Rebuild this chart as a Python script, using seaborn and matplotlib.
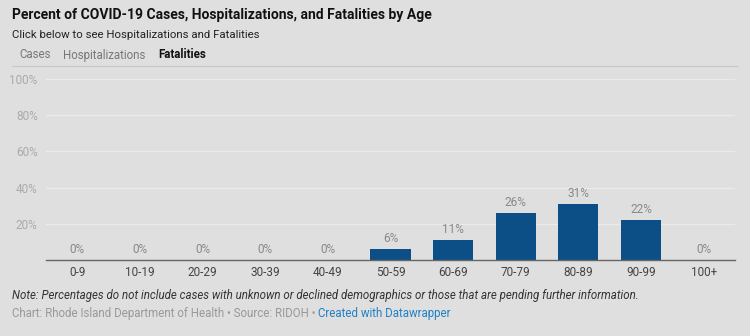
import matplotlib
matplotlib.use("Agg")
import matplotlib.pyplot as plt
import seaborn as sns
import pandas as pd

categories = ["0-9", "10-19", "20-29", "30-39", "40-49", "50-59", "60-69", "70-79", "80-89", "90-99", "100+"]
fatalities = [0, 0, 0, 0, 0, 6, 11, 26, 31, 22, 0]
ytick_values = [20, 40, 60, 80, 100]
ytick_labels = ["20%", "40%", "60%", "80%", "100%"]

BG = "#e0dfe0"
BAR = "#0b4f86"

sns.set_theme(style="white")
plt.rcParams["font.family"] = ["Roboto", "DejaVu Sans"]

df = pd.DataFrame({"age": categories, "pct": fatalities})

fig = plt.figure(figsize=(7.5, 3.36), dpi=100, facecolor=BG)
ax = fig.add_axes([46/750, 1-260/336, (735-46)/750, (260-79)/336])
ax.set_facecolor(BG)

sns.barplot(data=df, x="age", y="pct", color=BAR, width=0.64, saturation=1,
            linewidth=0, edgecolor=BAR, ax=ax, zorder=3)

ax.set_ylim(0, 100)
ax.set_xlim(-0.5, len(categories)-0.5)
ax.set_yticks(ytick_values)
ax.set_yticklabels(ytick_labels)
for y in ytick_values:
    ax.axhline(y, color="#ebebeb", lw=0.9, zorder=1)
for s in ["top", "right", "left"]:
    ax.spines[s].set_visible(False)
ax.spines["bottom"].set_color("#666666")
ax.spines["bottom"].set_linewidth(1.0)
ax.spines["bottom"].set_zorder(4)
ax.set_xlabel("")
ax.set_ylabel("")
ax.tick_params(axis="y", length=0, labelsize=8.5, labelcolor="#aaaaaa", pad=6)
ax.tick_params(axis="x", length=0, labelsize=8.5, labelcolor="#444444", pad=4)

for i, v in enumerate(fatalities):
    ax.annotate(f"{v}%", (i, v), xytext=(0, 3), textcoords="offset points",
                ha="center", va="bottom", fontsize=8.5, color="#888888")

fig.text(12/750, 1-15/336, "Percent of COVID-19 Cases, Hospitalizations, and Fatalities by Age",
         fontsize=10, fontweight="bold", color="#111111", va="center")
fig.text(12/750, 1-35/336, "Click below to see Hospitalizations and Fatalities",
         fontsize=8.2, color="#222222", va="center")
fig.text(19/750, 1-55/336, "Cases", fontsize=8.3, color="#777777", va="center")
fig.text(63/750, 1-55/336, "Hospitalizations", fontsize=8.3, color="#777777", va="center")
fig.text(158/750, 1-55/336, "Fatalities", fontsize=8.3, color="#111111", fontweight="bold", va="center")
fig.add_artist(plt.Line2D([12/750, 738/750], [1-66/336, 1-66/336], color="#c8c8c8", lw=0.8))

fig.text(12/750, 1-295/336,
         "Note: Percentages do not include cases with unknown or declined demographics or those that are pending further information.",
         fontsize=8.3, style="italic", color="#333333", va="center")
t1 = fig.text(12/750, 1-313/336, "Chart: Rhode Island Department of Health \u2022 Source: RIDOH \u2022 ",
              fontsize=8.3, color="#999999", va="center")
fig.canvas.draw()
bb = t1.get_window_extent()
fig.text(bb.x1/750, 1-313/336, "Created with Datawrapper", fontsize=8.3, color="#1d81c4", va="center")

fig.savefig("out.png", dpi=100, facecolor=BG)
